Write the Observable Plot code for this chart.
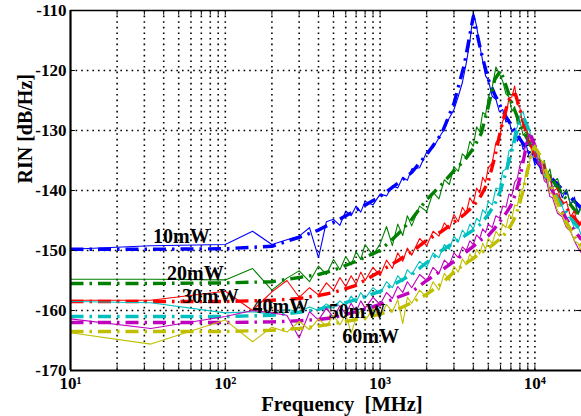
<!DOCTYPE html>
<html><head><meta charset="utf-8">
<script src="https://cdn.jsdelivr.net/npm/d3@7"></script>
<script src="https://cdn.jsdelivr.net/npm/@observablehq/plot@0.6"></script>
<style>html,body{margin:0;padding:0;background:#fff}</style>
</head><body><div id="chart"></div>
<script>
// Measured RIN (thin lines), frequency in MHz
const freqMeas = [
  10, 33, 100, 150, 200, 250, 300, 350, 400, 450,
  500, 550, 600, 650, 700, 750, 800, 900, 1000, 1100,
  1200, 1300, 1400, 1500, 1600, 1800, 2000, 2200, 2400, 2600,
  2800, 3000, 3200, 3400, 3600, 3800, 4000, 4200, 4400, 4600,
  4800, 5000, 5300, 5600, 5900, 6200, 6500, 6800, 7100, 7400,
  7700, 8000, 8400, 8800, 9200, 9600, 10000, 10500, 11000, 11500,
  12000, 12500, 13000, 14000, 15000, 16000, 17000, 18000, 19000, 20000];
const meas10 = [
  -149.8, -149.2, -149.0, -146.8, -149.0, -148.2, -147.6, -146.2, -151.2, -145.2,
  -144.8, -145.8, -143.4, -144.2, -142.6, -143.6, -141.8, -142.4, -140.6, -140.9,
  -139.2, -139.6, -137.8, -138.3, -136.4, -136.2, -133.6, -132.9, -131.2, -129.8,
  -127.9, -126.5, -124.3, -122.0, -118.8, -115.2, -110.3, -112.6, -115.8, -118.4,
  -120.9, -121.6, -124.3, -124.8, -126.9, -126.5, -128.6, -128.2, -130.3, -129.6,
  -131.8, -131.0, -133.2, -132.4, -134.6, -133.7, -135.8, -135.0, -137.2, -136.3,
  -138.5, -137.4, -139.6, -138.6, -141.2, -139.8, -142.4, -141.1, -143.8, -142.3];
const meas20 = [
  -154.8, -154.8, -154.9, -153.0, -156.6, -154.6, -153.4, -155.2, -152.6, -154.0,
  -151.5, -153.2, -151.0, -152.4, -150.2, -151.5, -149.0, -150.8, -148.9, -146.0,
  -149.2, -145.6, -147.5, -144.2, -145.9, -142.6, -143.5, -140.3, -141.4, -138.2,
  -139.0, -136.0, -136.8, -133.9, -134.5, -131.8, -132.6, -129.4, -130.2, -127.0,
  -127.4, -124.5, -122.8, -119.4, -120.6, -121.8, -123.9, -124.4, -126.8, -126.0,
  -128.9, -128.4, -130.8, -130.2, -132.5, -131.6, -134.2, -133.3, -135.9, -135.0,
  -137.4, -136.4, -138.7, -138.0, -140.6, -139.9, -142.3, -141.6, -144.0, -142.8];
const meas30 = [
  -158.3, -158.3, -156.8, -160.0, -156.9, -155.0, -157.8, -156.2, -157.4, -155.4,
  -156.6, -154.5, -156.0, -154.2, -155.6, -153.6, -155.0, -152.8, -154.2, -151.6,
  -153.0, -150.4, -151.8, -149.6, -150.8, -148.0, -149.2, -146.8, -147.6, -145.4,
  -146.4, -144.0, -145.2, -142.8, -143.8, -141.2, -142.2, -139.6, -140.4, -137.8,
  -138.6, -136.2, -135.4, -132.0, -131.2, -128.4, -127.6, -124.6, -124.4, -122.6,
  -125.6, -126.2, -129.4, -129.0, -132.0, -131.4, -134.4, -133.6, -136.4, -135.6,
  -138.6, -137.6, -140.2, -139.6, -142.4, -141.8, -144.4, -143.4, -146.2, -145.0];
const meas40 = [
  -158.5, -158.7, -160.4, -160.2, -160.6, -159.8, -160.2, -159.4, -160.0, -158.9,
  -159.6, -158.4, -159.2, -157.6, -158.6, -157.0, -158.0, -156.2, -157.2, -155.2,
  -156.2, -154.2, -155.2, -153.2, -154.0, -151.8, -152.8, -150.4, -151.2, -149.0,
  -149.8, -147.6, -148.6, -146.6, -147.4, -145.6, -146.4, -144.6, -145.2, -143.2,
  -143.8, -141.8, -142.4, -139.6, -139.8, -136.8, -136.4, -133.4, -133.0, -130.2,
  -129.4, -127.6, -126.8, -129.2, -129.8, -132.0, -132.4, -135.0, -135.4, -137.8,
  -137.8, -140.0, -139.8, -142.4, -142.6, -144.6, -144.4, -146.4, -146.0, -147.6];
const meas50 = [
  -161.4, -163.0, -161.0, -160.0, -160.4, -160.8, -164.6, -160.2, -161.6, -159.6,
  -161.2, -159.2, -160.6, -158.8, -160.2, -158.4, -159.6, -157.8, -159.0, -157.0,
  -158.0, -156.0, -157.0, -155.2, -156.2, -154.0, -155.0, -152.8, -153.8, -151.6,
  -152.4, -150.4, -151.2, -149.4, -150.0, -148.4, -149.0, -147.4, -148.0, -146.4,
  -147.0, -145.6, -146.2, -144.2, -144.6, -142.6, -142.8, -140.6, -140.8, -138.6,
  -138.0, -135.8, -134.6, -131.8, -130.6, -132.2, -133.0, -135.6, -136.0, -138.4,
  -138.8, -141.0, -141.2, -143.8, -144.4, -146.2, -146.8, -148.4, -149.6, -150.4];
const meas60 = [
  -163.7, -165.6, -161.6, -165.2, -162.8, -163.6, -161.8, -163.2, -161.4, -162.6,
  -160.8, -162.4, -160.6, -163.8, -161.2, -160.0, -161.6, -159.8, -161.0, -159.0,
  -160.2, -158.2, -162.2, -157.8, -158.8, -156.6, -157.8, -155.2, -156.6, -153.8,
  -155.0, -152.6, -153.6, -151.4, -152.4, -150.6, -151.6, -149.8, -150.6, -148.8,
  -149.8, -148.0, -148.8, -146.8, -147.6, -145.6, -146.2, -144.0, -144.6, -142.4,
  -142.6, -140.2, -139.6, -136.6, -135.6, -133.0, -132.4, -134.2, -135.0, -137.6,
  -137.8, -140.4, -140.6, -143.4, -144.2, -146.0, -146.8, -148.4, -148.8, -150.2];

// Model RIN (thick dash-dot lines)
const freqModel = [10, 30, 100, 200, 300, 400, 500, 700,
  1000, 1300, 1600, 2000, 2500, 3000, 3500, 4000,
  4500, 5000, 5500, 6000, 6500, 7000, 7500, 8000,
  8500, 9000, 9500, 10000, 11000, 12000,
  14000, 16000, 18000, 20000];
const model10 = [-149.8, -149.8, -149.7, -149.3, -147.8, -146.6, -145.3, -143.3,
  -141.0, -138.8, -137.0, -134.0, -130.5, -125.5, -119.0, -111.0,
  -117.0, -121.5, -124.0, -126.0, -127.7, -129.0, -130.3, -131.4,
  -132.4, -133.3, -134.1, -134.8, -136.1, -137.2,
  -139.0, -140.5, -141.8, -143.0];
const model20 = [-155.5, -155.5, -155.4, -155.2, -154.5, -154.0, -153.3, -151.8,
  -150.0, -147.3, -144.8, -141.5, -139.0, -136.7, -135.0, -133.0,
  -130.5, -126.0, -121.5, -120.0, -122.5, -125.0, -127.0, -128.8,
  -130.3, -131.6, -132.8, -133.8, -135.5, -137.0,
  -139.5, -141.5, -143.2, -144.6];
const model30 = [-158.5, -158.5, -158.5, -158.3, -158.0, -157.5, -157.0, -155.8,
  -153.5, -151.7, -150.2, -148.3, -146.8, -145.3, -144.0, -142.6,
  -140.8, -138.5, -134.5, -130.0, -126.5, -124.0, -124.0, -126.5,
  -129.0, -131.0, -132.6, -134.0, -136.3, -138.2,
  -141.0, -143.0, -144.6, -146.0];
const model40 = [-161.0, -161.0, -161.0, -160.8, -160.3, -159.8, -159.2, -158.2,
  -156.8, -155.3, -154.0, -152.0, -150.0, -148.7, -147.6, -146.6,
  -145.5, -144.0, -142.3, -140.0, -137.0, -134.0, -131.0, -128.5,
  -128.0, -129.5, -131.5, -133.0, -135.8, -138.0,
  -141.3, -143.7, -145.4, -146.8];
const model50 = [-162.0, -162.0, -162.0, -161.9, -161.7, -161.5, -161.2, -160.2,
  -159.0, -157.8, -156.9, -155.0, -153.3, -151.8, -150.5, -149.3,
  -148.2, -147.5, -146.3, -145.0, -143.8, -142.5, -140.5, -138.0,
  -134.5, -131.5, -131.0, -132.5, -135.5, -138.0,
  -142.0, -144.8, -146.7, -148.2];
const model60 = [-163.5, -163.5, -163.5, -163.3, -163.0, -162.6, -162.2, -161.5,
  -160.6, -159.8, -158.7, -157.3, -155.5, -153.6, -152.3, -151.3,
  -150.4, -149.6, -148.8, -148.0, -147.0, -145.8, -144.3, -142.0,
  -139.5, -136.5, -134.0, -132.8, -134.5, -137.3,
  -142.0, -145.3, -147.6, -149.2];

const seriesNames = ["10mW", "20mW", "30mW", "40mW", "50mW", "60mW"];
const seriesColors = ["#0000ff", "#008000", "#ff0000", "#00bfbf", "#bf00bf", "#bfbf00"];
// label anchor points (data coordinates)
const labelFreq = [52, 64, 80, 228, 711, 869];
const labelDb = [-147.6, -153.9, -157.6, -159.4, -160.1, -164.3];

const yTicks = [-170, -160, -150, -140, -130, -120, -110];
const yGrid = [-160, -150, -140, -130, -120];
const xTicks = [10, 100, 1000, 10000];
const xTickLabels = ["10\u00b9", "10\u00b2", "10\u00b3", "10\u2074"];
const xGrid = [20, 30, 40, 50, 60, 70, 80, 90, 100,
  200, 300, 400, 500, 600, 700, 800, 900, 1000,
  2000, 3000, 4000, 5000, 6000, 7000, 8000, 9000, 10000];

const measAll = [meas10, meas20, meas30, meas40, meas50, meas60];
const modelAll = [model10, model20, model30, model40, model50, model60];

const seriesMarks = [];
seriesNames.forEach((name, i) => {
  const m = measAll[i].map((v, j) => ({f: freqMeas[j], v}));
  const p = modelAll[i].map((v, j) => ({f: freqModel[j], v}));
  seriesMarks.push(Plot.line(m, {x: "f", y: "v", stroke: seriesColors[i], strokeWidth: 1.1}));
  seriesMarks.push(Plot.line(p, {x: "f", y: "v", stroke: seriesColors[i], strokeWidth: 3.4,
    strokeDasharray: "13,6,2.5,6", strokeLinecap: "butt", strokeLinejoin: "round"}));
});

const plot = Plot.plot({
  width: 581, height: 416,
  marginLeft: 70, marginRight: 0, marginTop: 10, marginBottom: 46,
  x: {type: "log", domain: [10, 20000]},
  y: {domain: [-170, -110]},
  style: {fontFamily: "'Liberation Serif', 'Times New Roman', serif", fontWeight: "bold", fontSize: "17px", background: "white", color: "black"},
  marks: [
    Plot.gridX(xGrid, {stroke: "black", strokeOpacity: 1, strokeWidth: 1.6, strokeDasharray: "1.6,4"}),
    Plot.gridY(yGrid, {stroke: "black", strokeOpacity: 1, strokeWidth: 1.6, strokeDasharray: "1.6,4"}),
    ...seriesMarks,
    Plot.text(seriesNames, {x: (d, i) => labelFreq[i], y: (d, i) => labelDb[i], fontSize: 20, fontWeight: "bold", fill: "black"}),
    // frame lines and inward ticks
    Plot.ruleX(xGrid, {y1: -170, y2: -169.2, stroke: "black", strokeWidth: 1}),
    Plot.ruleX(xGrid, {y1: -110, y2: -110.8, stroke: "black", strokeWidth: 1}),
    Plot.ruleY(yTicks, {x1: 10, x2: 10.75, stroke: "black", strokeWidth: 1}),
    Plot.ruleY(yTicks, {x1: 18600, x2: 20000, stroke: "black", strokeWidth: 1}),
    Plot.ruleY([-110], {stroke: "black", strokeWidth: 1.5}),
    Plot.ruleY([-170], {stroke: "black", strokeWidth: 2.2}),
    Plot.ruleX([10], {stroke: "black", strokeWidth: 2.2}),
    Plot.axisX(xTicks, {tickSize: 0, tickPadding: 6, label: null, fontSize: 17, fontWeight: "bold", fill: "black",
      tickFormat: d => xTickLabels[xTicks.indexOf(d)]}),
    Plot.axisY(yTicks, {tickSize: 0, tickPadding: 4, label: null, fontSize: 17, fontWeight: "bold", fill: "black",
      tickFormat: d => String(d)}),
    Plot.text(["Frequency\u00a0 [MHz]"], {frameAnchor: "bottom", dy: 40, dx: 16, fontSize: 20.5, fontWeight: "bold", fill: "black"}),
    Plot.text(["RIN [dB/Hz]"], {frameAnchor: "left", rotate: -90, dx: -45, dy: -7, fontSize: 20, fontWeight: "bold", fill: "black"})
  ]
});
document.getElementById("chart").appendChild(plot);
</script>
</body></html>
